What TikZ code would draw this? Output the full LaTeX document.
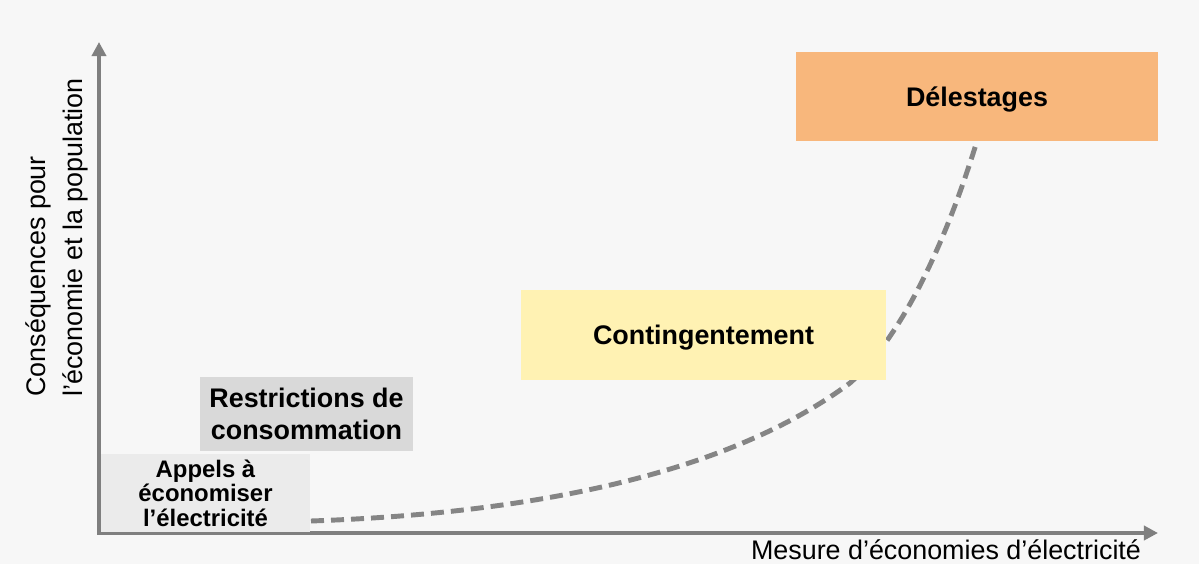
\documentclass[tikz,border=0pt]{standalone}
\usepackage{fontspec}
\setmainfont{Liberation Sans}
\usetikzlibrary{arrows.meta}

\definecolor{bggray}{HTML}{F7F7F7}
\definecolor{axisgray}{HTML}{7F7F7F}
\definecolor{curvegray}{HTML}{858585}
\definecolor{delcol}{HTML}{F8B77C}
\definecolor{contcol}{HTML}{FFF2B3}
\definecolor{restcol}{HTML}{D9D9D9}
\definecolor{appcol}{HTML}{EBEBEB}

\tikzset{
	axis/.style={draw=axisgray, line width=2.3pt, -{Triangle[length=8pt, width=8pt]}},
	stage/.style={rectangle, inner sep=0pt, align=center, font=\fontsize{15.3}{18.5}\selectfont\bfseries},
	curve/.style={draw=curvegray, line width=2.8pt, dash pattern=on 7.4pt off 4pt}
}

\begin{document}
\begin{tikzpicture}[x=0.02cm, y=-0.02cm]
		\fill[bggray] (0,0) rectangle (1199,564);
		\useasboundingbox (0,0) rectangle (1199,564);
		\coordinate (O) at (99,533);
		\coordinate (ytip) at (99,42);
		\coordinate (xtip) at (1158,533);
		\draw[axis] ([yshift=-0.02cm]O) -- (ytip);
		\draw[axis] ([xshift=-0.04cm]O) -- (xtip);
		\coordinate (start) at (311,521);
		\coordinate (knee) at (850,383);
		\coordinate (end) at (977,141);
		\draw[curve] (start) .. controls (540,513) and (730,472) .. (knee)
		.. controls (905,334) and (948,235) .. (end);
		\node[stage, fill=delcol, text depth=0pt, minimum width=7.24cm, minimum height=1.78cm] (deles) at (977,96.5) {Délestages};
		\node[stage, fill=contcol, text depth=0pt, minimum width=7.3cm, minimum height=1.8cm] (cont) at (703.5,335) {Contingentement};
		\node[stage, fill=restcol, minimum width=4.26cm, minimum height=1.48cm] (restr) at (306.5,414) {Restrictions de\\consommation};
		\node[stage, fill=appcol, minimum width=4.18cm, minimum height=1.56cm, font=\fontsize{13.6}{13.9}\selectfont\bfseries] (appels) at (205.5,493) {Appels à\\économiser\\l’électricité};
		\node[rotate=90, anchor=west, align=left, inner sep=0pt, font=\fontsize{15.3}{21.5}\selectfont] (ylab) at (57,397) {Conséquences pour\\l’économie et la population};
		\node[anchor=base, inner sep=0pt, font=\fontsize{15.3}{18}\selectfont] (xlab) at (946,559) {Mesure d’économies d’électricité};
\end{tikzpicture}
\end{document}
